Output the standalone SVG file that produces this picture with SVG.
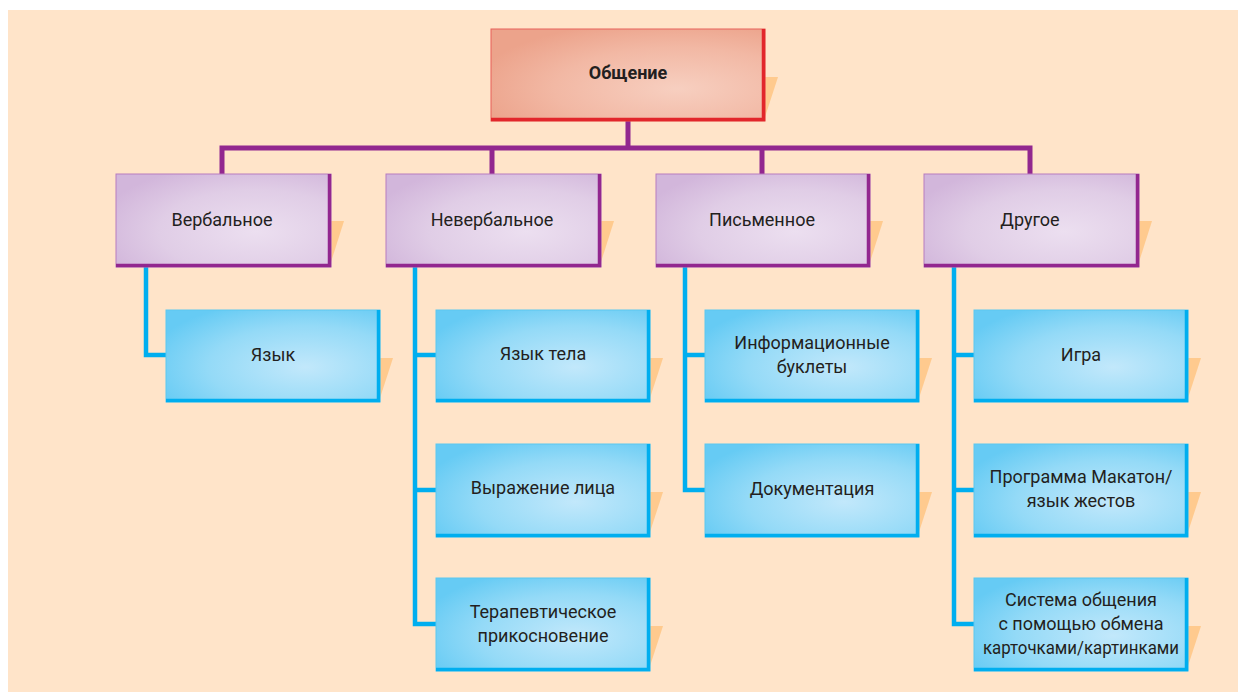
<svg xmlns="http://www.w3.org/2000/svg" width="1238" height="692" viewBox="0 0 1238 692">
<defs>
<radialGradient id="gB" cx="0.65" cy="0.62" r="0.75">
<stop offset="0" stop-color="#c2e8fb"/>
<stop offset="0.6" stop-color="#94daf7"/>
<stop offset="1" stop-color="#66cbf4"/>
</radialGradient>
<radialGradient id="gP" cx="0.65" cy="0.62" r="0.75">
<stop offset="0" stop-color="#ecdff0"/>
<stop offset="0.6" stop-color="#e0cde6"/>
<stop offset="1" stop-color="#d2b6db"/>
</radialGradient>
<radialGradient id="gR" cx="0.68" cy="0.65" r="0.75">
<stop offset="0" stop-color="#f7cfc0"/>
<stop offset="0.6" stop-color="#f2b8a4"/>
<stop offset="1" stop-color="#eca38b"/>
</radialGradient>
</defs>
<style>
.sh{fill:#ffca8e}
.bB{fill:url(#gB);stroke:#5cc8f0;stroke-width:1}
.eB{fill:none;stroke:#00aeef;stroke-width:3.5}
.bP{fill:url(#gP);stroke:#b77cc0;stroke-width:1}
.eP{fill:none;stroke:#92278f;stroke-width:3.5}
.bR{fill:url(#gR);stroke:#e8605a;stroke-width:1}
.eR{fill:none;stroke:#e2262b;stroke-width:3.5}
text{font-family:"Roboto","Liberation Sans",sans-serif;font-size:18px;fill:#231f20;text-anchor:middle}
.t{font-weight:bold}
.cP{fill:none;stroke:#92278f;stroke-width:5}
.cB{fill:none;stroke:#00aeef;stroke-width:4.5}
</style>
<rect x="8" y="10" width="1230" height="682" fill="#ffe4c9"/>
<g id="connectors">
<path class="cP" d="M628 121V148M222 174V148H1030V174M492 148V174M762 148V174"/>
<path class="cB" d="M146 267V355H166"/>
<path class="cB" d="M415 267V624H436M415 355H436M415 490H436"/>
<path class="cB" d="M685 267V490H705M685 355H705"/>
<path class="cB" d="M954 267V624H974M954 355H974M954 490H974"/>
</g>
<g id="n-root">
<polygon class="sh" points="765,77 778,77 765,117"/>
<rect class="bR" x="491" y="29" width="274" height="92"/>
<path class="eR" d="M763.5 29V119.5H491"/>
<text class="t" x="628" y="79">Общение</text>
</g>
<g id="n-verbal">
<polygon class="sh" points="331,221 344,221 331,262"/>
<rect class="bP" x="116" y="174" width="215" height="93"/>
<path class="eP" d="M329.5 174V265.5H116"/>
<text x="222" y="226">Вербальное</text>
</g>
<g id="n-nonverbal">
<polygon class="sh" points="601,221 614,221 601,262"/>
<rect class="bP" x="386" y="174" width="215" height="93"/>
<path class="eP" d="M599.5 174V265.5H386"/>
<text x="492" y="226">Невербальное</text>
</g>
<g id="n-written">
<polygon class="sh" points="870,221 883,221 870,262"/>
<rect class="bP" x="656" y="174" width="214" height="93"/>
<path class="eP" d="M868.5 174V265.5H656"/>
<text x="762" y="226">Письменное</text>
</g>
<g id="n-other">
<polygon class="sh" points="1139,221 1152,221 1139,262"/>
<rect class="bP" x="924" y="174" width="215" height="93"/>
<path class="eP" d="M1137.5 174V265.5H924"/>
<text x="1030" y="226">Другое</text>
</g>
<g id="n-lang">
<polygon class="sh" points="380,358 393,358 380,398"/>
<rect class="bB" x="166" y="310" width="214" height="92"/>
<path class="eB" d="M378.5 310V400.5H166"/>
<text x="273" y="361">Язык</text>
</g>
<g id="n-body">
<polygon class="sh" points="650,358 663,358 650,398"/>
<rect class="bB" x="436" y="310" width="214" height="92"/>
<path class="eB" d="M648.5 310V400.5H436"/>
<text x="543" y="360">Язык тела</text>
</g>
<g id="n-face">
<polygon class="sh" points="650,492 663,492 650,532"/>
<rect class="bB" x="436" y="444" width="214" height="93"/>
<path class="eB" d="M648.5 444V535.5H436"/>
<text x="543" y="494">Выражение лица</text>
</g>
<g id="n-touch">
<polygon class="sh" points="650,626 663,626 650,666"/>
<rect class="bB" x="436" y="578" width="214" height="93"/>
<path class="eB" d="M648.5 578V669.5H436"/>
<text x="543" y="618">Терапевтическое</text>
<text x="543" y="642">прикосновение</text>
</g>
<g id="n-booklets">
<polygon class="sh" points="919,358 932,358 919,398"/>
<rect class="bB" x="705" y="310" width="214" height="92"/>
<path class="eB" d="M917.5 310V400.5H705"/>
<text x="812" y="349">Информационные</text>
<text x="812" y="373">буклеты</text>
</g>
<g id="n-docs">
<polygon class="sh" points="919,492 932,492 919,532"/>
<rect class="bB" x="705" y="444" width="214" height="93"/>
<path class="eB" d="M917.5 444V535.5H705"/>
<text x="812" y="495">Документация</text>
</g>
<g id="n-play">
<polygon class="sh" points="1188,358 1201,358 1188,398"/>
<rect class="bB" x="974" y="310" width="214" height="92"/>
<path class="eB" d="M1186.5 310V400.5H974"/>
<text x="1081" y="361">Игра</text>
</g>
<g id="n-makaton">
<polygon class="sh" points="1188,492 1201,492 1188,532"/>
<rect class="bB" x="974" y="444" width="214" height="93"/>
<path class="eB" d="M1186.5 444V535.5H974"/>
<text x="1081" y="483">Программа Макатон/</text>
<text x="1081" y="507">язык жестов</text>
</g>
<g id="n-pecs">
<polygon class="sh" points="1188,626 1201,626 1188,666"/>
<rect class="bB" x="974" y="578" width="214" height="93"/>
<path class="eB" d="M1186.5 578V669.5H974"/>
<text x="1081" y="606">Система общения</text>
<text x="1081" y="630">с помощью обмена</text>
<text x="1081" y="654" textLength="196" lengthAdjust="spacingAndGlyphs">карточками/картинками</text>
</g>
</svg>
